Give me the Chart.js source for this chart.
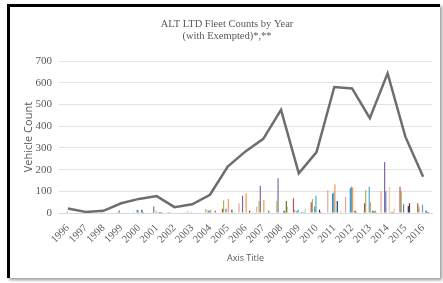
<!DOCTYPE html>
<html>
<head>
<meta charset="utf-8">
<script src="https://cdn.jsdelivr.net/npm/chart.js@4/dist/chart.umd.min.js"></script>
<style>
  html, body { margin: 0; padding: 0; background: #fff; }
  .wrap { position: relative; width: 443px; height: 283px; overflow: hidden; }
  .frame {
    position: absolute; left: 7px; top: 4px; width: 430px; height: 271px;
    border-left: 3px solid #000; border-top: 3px solid #000;
    box-shadow: 2px 2px 3px #9a9a9a;
    background: #fff;
  }
  canvas { position: absolute; left: 0; top: 0; }
</style>
</head>
<body>
<div class="wrap">
  <div class="frame"></div>
  <canvas id="fleetChart" width="443" height="283"></canvas>
</div>
<script>
// Years on the x axis
const years = ['1996', '1997', '1998', '1999', '2000', '2001', '2002', '2003', '2004', '2005', '2006',
  '2007', '2008', '2009', '2010', '2011', '2012', '2013', '2014', '2015', '2016'];

// Total fleet count (gray line)
const totalCounts = [21, 5, 10, 45, 65, 78, 27, 40, 84, 214, 284, 342, 475, 183, 281, 581, 574, 437, 644, 352, 167];

// Per-category counts (small bars)
const pinkVals      = [0, 0, 0, 0, 0, 2, 5, 5, 0, 0, 45, 30, 0, 0, 0, 106, 74, 0, 100, 0, 0];
const redVals       = [0, 0, 0, 0, 3, 2, 5, 0, 0, 20, 0, 0, 0, 68, 50, 0, 0, 45, 0, 121, 45];
const greenVals     = [0, 0, 0, 0, 0, 3, 0, 8, 18, 58, 0, 55, 55, 15, 65, 0, 0, 106, 0, 100, 30];
const purpleVals    = [0, 0, 0, 5, 0, 30, 0, 0, 0, 0, 79, 126, 160, 0, 0, 0, 0, 0, 235, 0, 0];
const blueVals      = [0, 0, 5, 12, 15, 0, 0, 0, 12, 20, 0, 0, 0, 10, 30, 90, 114, 0, 100, 40, 0];
const aquaVals      = [8, 0, 0, 0, 12, 8, 0, 5, 10, 0, 0, 0, 0, 15, 79, 95, 121, 121, 0, 0, 38];
const orangeVals    = [0, 0, 0, 0, 0, 5, 0, 0, 15, 65, 91, 61, 0, 0, 0, 132, 117, 50, 0, 0, 0];
const peachVals     = [0, 0, 0, 0, 0, 0, 0, 0, 0, 0, 0, 0, 0, 0, 0, 0, 0, 0, 121, 0, 0];
const navyVals      = [0, 0, 0, 0, 15, 5, 0, 0, 0, 0, 0, 0, 10, 5, 15, 55, 10, 10, 0, 32, 10];
const darkRedVals   = [0, 0, 0, 0, 5, 5, 0, 0, 0, 15, 10, 0, 5, 0, 5, 0, 5, 5, 5, 45, 5];
const darkGreenVals = [0, 0, 0, 0, 0, 3, 0, 0, 10, 0, 0, 10, 55, 5, 0, 0, 0, 10, 5, 0, 5];
const lightGreenVals = [0, 0, 0, 0, 0, 0, 0, 0, 0, 5, 0, 5, 30, 20, 0, 10, 0, 5, 20, 0, 5];

// Y axis ticks
const yMin = 0;
const yMax = 700;
const yStep = 100;

const barSeries = [
  { data: pinkVals, color: '#e6a3a1' },
  { data: redVals, color: '#c0504d' },
  { data: greenVals, color: '#9bbb59' },
  { data: purpleVals, color: '#8064a2' },
  { data: blueVals, color: '#4f81bd' },
  { data: aquaVals, color: '#4bacc6' },
  { data: orangeVals, color: '#f79646' },
  { data: peachVals, color: '#fac8a8' },
  { data: navyVals, color: '#1f3864' },
  { data: darkRedVals, color: '#772c2a' },
  { data: darkGreenVals, color: '#5f7530' },
  { data: lightGreenVals, color: '#c3d69b' }
];

const serif = "'Liberation Serif', 'DejaVu Serif', serif";
const sans = "'Open Sans', 'Liberation Sans', sans-serif";
const textGray = '#595959';

const datasets = [{
  type: 'line',
  data: totalCounts,
  borderColor: '#6e6e6e',
  borderWidth: 2.5,
  pointRadius: 0,
  tension: 0,
  order: 0
}];
barSeries.forEach(s => {
  datasets.push({
    type: 'bar',
    data: s.data,
    backgroundColor: s.color,
    categoryPercentage: 0.8,
    barPercentage: 1.0,
    order: 1
  });
});

new Chart(document.getElementById('fleetChart'), {
  data: { labels: years, datasets: datasets },
  options: {
    responsive: false,
    animation: false,
    layout: { padding: { left: 22, right: 11, top: 0, bottom: 19 } },
    plugins: {
      legend: { display: false },
      tooltip: { enabled: false },
      title: {
        display: true,
        text: ['ALT LTD Fleet Counts by Year', '(with Exempted)*,**'],
        color: textGray,
        font: { family: serif, size: 10.5, weight: 'normal', lineHeight: 1.15 },
        padding: { top: 18, bottom: 19 }
      }
    },
    scales: {
      x: {
        grid: { display: false },
        border: { color: '#d9d9d9' },
        ticks: {
          color: textGray,
          font: { family: serif, size: 10.5 },
          minRotation: 45,
          maxRotation: 45,
          autoSkip: false,
          padding: 1
        },
        title: {
          display: true,
          text: 'Axis Title',
          color: textGray,
          font: { family: sans, size: 9 },
          padding: { top: 2, bottom: 0 }
        },
        afterFit: s => { s.height = 51; }
      },
      y: {
        min: yMin,
        max: yMax,
        grid: { color: '#e3e3e3', lineWidth: 1, drawTicks: false },
        border: { display: false },
        ticks: {
          stepSize: yStep,
          color: textGray,
          font: { family: serif, size: 11 },
          padding: 7
        },
        title: {
          display: true,
          text: 'Vehicle Count',
          color: textGray,
          font: { family: sans, size: 11 },
          padding: { top: 0, bottom: 0 }
        },
        afterFit: s => { s.width = 37; }
      }
    }
  }
});
</script>
</body>
</html>
